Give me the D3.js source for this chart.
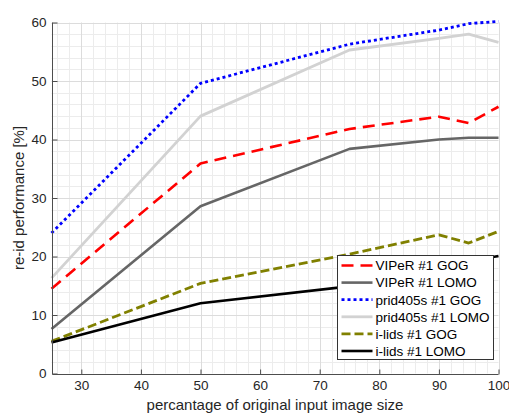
<!DOCTYPE html>
<html><head><meta charset="utf-8">
<script src="https://cdn.jsdelivr.net/npm/d3@7"></script>
<style>body{margin:0;background:#fff}svg{display:block;font-family:"Liberation Sans",Arial,Helvetica,sans-serif}</style>
</head><body><svg id="c" width="509" height="417"></svg>
<script>
const xValues = [25, 50, 75, 90, 95, 100];
const viperGOG = [14.5, 35.9, 41.8, 43.9, 42.8, 45.6];
const viperLOMO = [7.6, 28.6, 38.4, 40.0, 40.3, 40.3];
const pridGOG = [24.0, 49.6, 56.3, 58.7, 59.8, 60.2];
const pridLOMO = [16.3, 44.0, 55.3, 57.3, 58.0, 56.6];
const ilidsGOG = [5.5, 15.4, 20.4, 23.7, 22.3, 24.3];
const ilidsLOMO = [5.3, 12.0, 14.9, 18.2, 19.2, 20.1];
const seriesNames = ["VIPeR #1 GOG", "VIPeR #1 LOMO", "prid405s #1 GOG", "prid405s #1 LOMO", "i-lids #1 GOG", "i-lids #1 LOMO"];
const xTicks = [30, 40, 50, 60, 70, 80, 90, 100];
const yTicks = [0, 10, 20, 30, 40, 50, 60];
const xLabel = "percantage of original input image size";
const yLabel = "re-id performance [%]";

const seriesData = [viperGOG, viperLOMO, pridGOG, pridLOMO, ilidsGOG, ilidsLOMO];
const styles = [
  {color:"#ff0000", w:2.6, dash:"12,7"},
  {color:"#666666", w:2.6, dash:null},
  {color:"#0000ff", w:2.8, dash:"3,3"},
  {color:"#d2d2d2", w:2.8, dash:null},
  {color:"#808000", w:2.8, dash:"9,4"},
  {color:"#000000", w:2.6, dash:null}
];

const svg = d3.select("#c");
const x = d3.scaleLinear().domain([25,100]).range([51.5,498.5]);
const y = d3.scaleLinear().domain([0,60]).range([373.5,22.5]);

const g = svg.append("g");
// minor grid
const xMinor = d3.range(26,101,2).filter(v=>v%10!==0);
const yMinor = d3.range(2,60,2).filter(v=>v%10!==0);
g.selectAll(".xm").data(xMinor).join("line")
  .attr("x1",d=>Math.round(x(d))+0.5).attr("x2",d=>Math.round(x(d))+0.5)
  .attr("y1",y(0)).attr("y2",y(60)).attr("stroke","#ececec").attr("stroke-width",1);
g.selectAll(".ym").data(yMinor).join("line")
  .attr("y1",d=>Math.round(y(d))+0.5).attr("y2",d=>Math.round(y(d))+0.5)
  .attr("x1",x(25)).attr("x2",x(100)).attr("stroke","#ececec").attr("stroke-width",1);
// major grid
g.selectAll(".xg").data(xTicks).join("line")
  .attr("x1",d=>Math.round(x(d))+0.5).attr("x2",d=>Math.round(x(d))+0.5)
  .attr("y1",y(0)).attr("y2",y(60)).attr("stroke","#dcdcdc").attr("stroke-width",1);
g.selectAll(".yg").data(yTicks.slice(1)).join("line")
  .attr("y1",d=>Math.round(y(d))+0.5).attr("y2",d=>Math.round(y(d))+0.5)
  .attr("x1",x(25)).attr("x2",x(100)).attr("stroke","#dcdcdc").attr("stroke-width",1);

// lines
const line = d3.line().x((d,i)=>x(xValues[i])).y(d=>y(d));
seriesData.forEach((s,k)=>{
  const st = styles[k];
  const p = g.append("path").datum(s).attr("d",line).attr("fill","none")
    .attr("stroke",st.color).attr("stroke-width",st.w).attr("stroke-linejoin","round");
  if (st.dash) p.attr("stroke-dasharray",st.dash);
});

// axes
const xAxis = d3.axisBottom(x).tickValues(xTicks).tickSize(-5).tickPadding(6).tickFormat(d3.format("d"));
const yAxis = d3.axisLeft(y).tickValues(yTicks).tickSize(-5).tickPadding(6).tickFormat(d3.format("d"));
const ax = svg.append("g").attr("transform",`translate(0,${Math.round(y(0))+0.5})`).call(xAxis);
const ay = svg.append("g").attr("transform",`translate(${Math.round(x(25))+0.5},0)`).call(yAxis);
[ax,ay].forEach(a=>{
  a.select(".domain").remove();
  a.selectAll(".tick line").attr("stroke","#4d4d4d");
  a.selectAll("text").attr("fill","#262626").style("font-size","13.5px").style("font-family","'Liberation Sans',Arial,sans-serif");
});
svg.append("line").attr("x1",Math.round(x(25))+0.5).attr("x2",x(100)).attr("y1",Math.round(y(0))+0.5).attr("y2",Math.round(y(0))+0.5).attr("stroke","#4d4d4d");
svg.append("line").attr("x1",Math.round(x(25))+0.5).attr("x2",Math.round(x(25))+0.5).attr("y1",y(60)).attr("y2",Math.round(y(0))+0.5).attr("stroke","#4d4d4d");

svg.append("text").attr("x",275).attr("y",410).attr("text-anchor","middle")
  .attr("fill","#262626").style("font-size","15px").text(xLabel);
svg.append("text").attr("transform","translate(24,198) rotate(-90)").attr("text-anchor","middle")
  .attr("fill","#262626").style("font-size","15px").text(yLabel);

// legend
const lg = svg.append("g");
lg.append("rect").attr("x",337.5).attr("y",255.5).attr("width",156).attr("height",104)
  .attr("fill","#fff").attr("stroke","#333").attr("stroke-width",1);
seriesNames.forEach((n,k)=>{
  const cy = 265.5 + k*17.1;
  const st = styles[k];
  const l = lg.append("line").attr("x1",341.5).attr("x2",372.5).attr("y1",cy).attr("y2",cy)
    .attr("stroke",st.color).attr("stroke-width",st.w);
  if (st.dash) l.attr("stroke-dasharray",st.dash);
  lg.append("text").attr("x",375.5).attr("y",cy+4.8).attr("fill","#000")
    .style("font-size","13.5px").text(n);
});
</script></body></html>
